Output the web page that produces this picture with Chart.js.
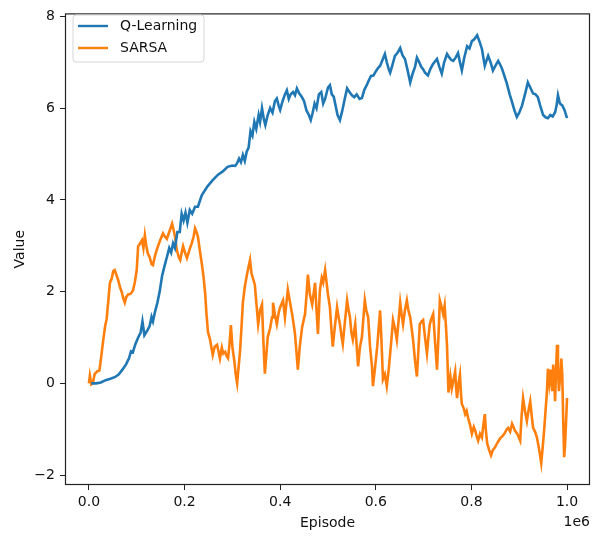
<!DOCTYPE html>
<html>
<head>
<meta charset="utf-8">
<script src="https://cdn.jsdelivr.net/npm/chart.js@4.4.1/dist/chart.umd.min.js"></script>
<style>
  body { margin: 0; background: #fff; }
  #wrap { width: 598px; height: 536px; }
</style>
</head>
<body>
<div id="wrap"><canvas id="valueChart" width="598" height="536"></canvas></div>
<script>
// episodes in thousands, values as logged
const qEpisodes = [5, 15, 25, 35, 45, 55, 62, 70, 78, 84, 88, 92, 97, 103, 108, 112, 116, 122, 127, 131, 134, 138, 143, 148, 153, 158, 163, 168, 172, 176, 180, 185, 190, 194, 198, 202, 206, 211, 216, 222, 228, 236, 247, 258, 270, 280, 290, 300, 306, 310, 314, 318, 322, 326, 330, 334, 338, 342, 346, 350, 355, 358, 362, 366, 369, 374, 379, 384, 389, 393, 397, 400, 405, 410, 414, 418, 422, 427, 431, 435, 440, 445, 450, 455, 460, 464, 468, 472, 476, 481, 486, 490, 494, 500, 504, 508, 512, 516, 520, 525, 530, 535, 540, 545, 550, 555, 560, 566, 571, 576, 581, 586, 590, 595, 600, 605, 609, 614, 619, 623, 627, 630, 635, 640, 645, 651, 656, 661, 666, 672, 677, 682, 686, 690, 695, 699, 703, 709, 714, 719, 724, 728, 733, 738, 743, 749, 754, 758, 762, 767, 772, 776, 780, 785, 791, 796, 801, 806, 812, 817, 822, 825, 828, 832, 835, 840, 845, 850, 856, 860, 864, 869, 874, 880, 885, 890, 895, 900, 906, 912, 918, 923, 929, 934, 939, 944, 950, 955, 960, 965, 970, 975, 978, 981, 985, 990, 995, 1000];
const qValues = [0.0, 0.0, 0.02, 0.07, 0.1, 0.14, 0.19, 0.3, 0.42, 0.55, 0.7, 0.68, 0.85, 1.0, 1.1, 1.35, 1.05, 1.15, 1.25, 1.45, 1.35, 1.55, 1.75, 2.0, 2.34, 2.55, 2.75, 2.95, 2.85, 3.05, 2.95, 3.3, 3.3, 3.7, 3.55, 3.72, 3.5, 3.78, 3.7, 3.85, 3.85, 4.1, 4.28, 4.42, 4.55, 4.62, 4.72, 4.75, 4.74, 4.8, 4.9, 4.82, 4.98, 4.85, 5.05, 5.14, 5.5, 5.4, 5.7, 5.55, 5.85, 5.7, 6.0, 5.75, 5.63, 5.85, 6.0, 5.9, 6.15, 6.21, 6.05, 5.96, 6.15, 6.3, 6.39, 6.2, 6.3, 6.35, 6.28, 6.43, 6.32, 6.25, 6.15, 5.95, 5.85, 5.74, 5.9, 6.1, 6.0, 6.3, 6.35, 6.1, 6.2, 6.45, 6.5, 6.3, 6.25, 6.05, 5.85, 5.74, 5.95, 6.2, 6.43, 6.35, 6.28, 6.24, 6.3, 6.2, 6.22, 6.4, 6.5, 6.62, 6.7, 6.71, 6.8, 6.88, 6.92, 7.05, 7.18, 7.0, 6.85, 6.77, 6.95, 7.14, 7.2, 7.31, 7.15, 7.07, 6.85, 6.56, 6.75, 6.9, 7.1, 7.02, 6.9, 6.85, 6.77, 6.71, 6.85, 6.95, 7.02, 7.07, 6.9, 6.75, 7.0, 7.18, 7.1, 7.05, 7.03, 7.1, 7.2, 7.0, 6.82, 7.1, 7.35, 7.3, 7.46, 7.5, 7.59, 7.45, 7.29, 7.1, 6.92, 7.05, 7.14, 7.0, 6.82, 6.92, 7.03, 6.95, 6.86, 6.7, 6.54, 6.3, 6.13, 5.95, 5.81, 5.9, 6.06, 6.3, 6.56, 6.45, 6.32, 6.3, 6.24, 6.05, 5.85, 5.8, 5.78, 5.85, 5.82, 5.91, 6.05, 6.28, 6.1, 6.06, 5.95, 5.78];

const sarsaEpisodes = [0, 2, 5, 8, 12, 17, 22, 26, 30, 34, 37, 41, 44, 48, 51, 54, 58, 61, 65, 69, 72, 75, 78, 82, 87, 92, 96, 100, 103, 107, 111, 114, 117, 120, 123, 127, 131, 134, 138, 143, 149, 155, 159, 163, 168, 174, 177, 180, 184, 188, 191, 194, 197, 201, 205, 210, 215, 219, 222, 225, 228, 232, 236, 240, 243, 246, 249, 253, 256, 259, 263, 268, 271, 274, 278, 281, 285, 288, 291, 294, 297, 300, 304, 307, 310, 313, 316, 319, 322, 326, 330, 334, 337,
    340, 347, 354, 358, 362, 365, 368, 374, 379, 383, 385, 389, 393, 397, 400, 406, 410, 416, 420, 425, 428, 431, 434, 437, 441, 446, 452, 455, 458, 462, 467, 473, 476, 479, 483, 487, 490, 494, 500, 504, 507, 510, 514, 519, 522, 525, 528, 531, 535, 540, 543, 546, 549, 552, 557, 563, 567, 571, 577, 580, 584, 588, 592, 594, 598, 603, 606, 609, 612, 615, 619, 623, 627, 630, 633, 636, 640, 644, 648, 651, 654, 657, 661, 665, 668, 672, 675, 678, 682, 686, 689, 692, 696, 699, 703, 707, 710, 713, 716, 720, 724, 728, 731, 734, 738, 741, 744, 747, 749, 752, 756, 759,
    763, 766, 768, 770, 773, 776, 778, 780, 784, 787, 790, 793, 797, 801, 805, 808, 811, 814, 818, 822, 825, 828, 830, 833, 837, 841, 845, 849, 854, 860, 865, 870, 874, 877, 881, 885, 888, 891, 896, 902, 905, 908, 912, 916, 920, 923, 926, 929, 933, 937, 941, 944, 946, 949, 952, 955, 958, 960, 963, 966, 969, 971, 973, 975, 977, 979, 981, 983, 986, 988, 990, 992, 994, 996, 998, 1000];
const sarsaValues = [0.0, 0.17, -0.02, 0.0, 0.2, 0.26, 0.28, 0.6, 0.95, 1.25, 1.4, 1.85, 2.19, 2.3, 2.45, 2.47, 2.35, 2.26, 2.1, 1.98, 1.85, 1.76, 1.88, 1.94, 1.95, 2.02, 2.2, 2.47, 2.99, 3.05, 3.12, 2.95, 3.23, 3.0, 2.84, 2.75, 2.6, 2.58, 2.77, 2.95, 3.12, 3.27, 3.2, 3.15, 3.3, 3.48, 3.35, 3.2, 2.9, 2.75, 2.69, 2.85, 2.99, 2.85, 2.73, 2.9, 3.05, 3.2, 3.38, 3.3, 3.2, 2.9, 2.62, 2.3, 1.98, 1.5, 1.12, 0.97, 0.8, 0.62, 0.8, 0.84, 0.7, 0.54, 0.78, 0.65, 0.69, 0.6, 0.55, 0.85, 1.27, 0.8, 0.5, 0.2, 0.0, 0.35, 0.69, 1.2, 1.76, 2.1, 2.34, 2.55, 2.69,
    2.4, 2.15, 1.29, 1.6, 1.72, 0.9, 0.21, 1.01, 1.2, 1.44, 1.76, 1.5, 1.29, 1.55, 1.66, 1.81, 1.44, 2.04, 1.8, 1.51, 1.3, 1.08, 0.7, 0.3, 0.8, 1.23, 1.51, 1.9, 2.37, 1.95, 1.72, 2.19, 1.6, 1.08, 2.02, 2.3, 2.2, 2.47, 1.94, 1.66, 1.2, 0.8, 1.2, 1.66, 1.45, 1.29, 1.05, 0.86, 1.3, 1.81, 1.6, 1.44, 1.1, 0.95, 1.29, 0.37, 0.8, 1.01, 1.81, 1.6, 1.44, 0.8, 0.37, -0.06, 0.3, 0.8, 1.2, 1.59, 0.9, 0.09, 0.2, -0.06, 0.3, 0.65, 1.0, 1.38, 1.2, 0.95, 1.4, 1.76, 1.5, 1.29, 1.6, 1.81, 1.6, 1.44, 1.2, 0.95, 0.5, 0.15, 0.7, 1.29, 1.35, 1.38, 1.0, 0.65, 1.0, 1.29, 1.4, 1.51, 0.9, 0.3, 1.0, 1.81, 1.65, 1.51, 1.7, 1.2, 0.8, -0.2, 0.15, -0.11,
    0.1, 0.26, -0.1, -0.32, 0.0, 0.19, -0.2, -0.45, -0.55, -0.67, -0.6, -0.75, -0.9, -1.1, -0.95, -1.03, -1.15, -1.25, -1.1, -1.18, -0.9, -0.67, -1.0, -1.31, -1.45, -1.57, -1.45, -1.4, -1.3, -1.2, -1.15, -1.08, -1.0, -0.97, -1.05, -0.88, -0.95, -1.03, -1.1, -1.25, -0.7, -0.32, -0.6, -0.82, -0.55, -0.39, -0.7, -0.97, -1.05, -1.18, -1.4, -1.6, -1.74, -1.4, -1.03, -0.6, -0.17, 0.32, 0.0, 0.3, -0.17, 0.41, 0.1, -0.39, 0.3, 0.84, 0.3, -0.17, 0.2, 0.54, 0.2, -0.82, -1.61, -1.3, -0.82, -0.32];

const xTicks = [0, 200000, 400000, 600000, 800000, 1000000];
const yTicks = [-2, 0, 2, 4, 6, 8];

const FONT = 'DejaVu Sans';
const toPoints = (xs, ys) => xs.map((k, i) => ({ x: k * 1000, y: ys[i] }));

// matplotlib-like box around the axes plus the inset legend and offset text
const axesDecor = {
    id: 'axesDecor',
    afterDraw(chart) {
        const { ctx, chartArea: a } = chart;
        ctx.save();
        ctx.strokeStyle = '#222';
        ctx.lineWidth = 1.2;
        ctx.strokeRect(a.left + 0.5, a.top + 0.5, a.right - a.left - 1, a.bottom - a.top - 1);

        // legend
        const lx = 73, ly = 15, lw = 131, lh = 47, r = 3;
        ctx.beginPath();
        ctx.moveTo(lx + r, ly);
        ctx.arcTo(lx + lw, ly, lx + lw, ly + lh, r);
        ctx.arcTo(lx + lw, ly + lh, lx, ly + lh, r);
        ctx.arcTo(lx, ly + lh, lx, ly, r);
        ctx.arcTo(lx, ly, lx + lw, ly, r);
        ctx.closePath();
        ctx.fillStyle = 'rgba(255,255,255,0.8)';
        ctx.fill();
        ctx.lineWidth = 1;
        ctx.strokeStyle = '#d6d6d6';
        ctx.stroke();

        ctx.font = '14px "' + FONT + '"';
        ctx.textBaseline = 'middle';
        ctx.textAlign = 'left';
        chart.data.datasets.forEach((ds, i) => {
            const y = 26 + i * 22;
            ctx.strokeStyle = ds.borderColor;
            ctx.lineWidth = 2.4;
            ctx.beginPath();
            ctx.moveTo(78, y);
            ctx.lineTo(108, y);
            ctx.stroke();
            ctx.fillStyle = '#111';
            ctx.fillText(ds.label, 120, y);
        });

        ctx.textAlign = 'right';
        ctx.fillText('1e6', a.right, 522);
        ctx.restore();
    }
};

new Chart(document.getElementById('valueChart'), {
    type: 'line',
    data: {
        datasets: [
            {
                label: 'Q-Learning',
                data: toPoints(qEpisodes, qValues),
                borderColor: '#1f77b4',
                borderWidth: 2.6,
                pointRadius: 0,
                tension: 0
            },
            {
                label: 'SARSA',
                data: toPoints(sarsaEpisodes, sarsaValues),
                borderColor: '#ff7f0e',
                borderWidth: 2.6,
                pointRadius: 0,
                tension: 0
            }
        ]
    },
    options: {
        responsive: false,
        animation: false,
        events: [],
        layout: { padding: { top: 7, right: 8, left: 0, bottom: 0 } },
        plugins: { legend: { display: false }, tooltip: { enabled: false } },
        scales: {
            x: {
                type: 'linear',
                min: -50000,
                max: 1048000,
                afterFit: (s) => { s.height = 51; },
                afterBuildTicks: (s) => { s.ticks = xTicks.map(v => ({ value: v })); },
                grid: { drawOnChartArea: false, tickLength: 5, color: '#222', tickColor: '#222' },
                border: { display: false },
                ticks: {
                    color: '#111',
                    font: { family: FONT, size: 14 },
                    padding: 4,
                    maxRotation: 0,
                    callback: (v) => (v / 1e6).toFixed(1)
                },
                title: {
                    display: true,
                    text: 'Episode',
                    color: '#111',
                    font: { family: FONT, size: 14 },
                    padding: { top: 0, bottom: 4 }
                }
            },
            y: {
                min: -2.215,
                max: 8.065,
                afterFit: (s) => { s.width = 65; },
                afterBuildTicks: (s) => { s.ticks = yTicks.map(v => ({ value: v })); },
                grid: { drawOnChartArea: false, tickLength: 5, color: '#222', tickColor: '#222' },
                border: { display: false },
                ticks: {
                    color: '#111',
                    font: { family: FONT, size: 14 },
                    padding: 5,
                    callback: (v) => v < 0 ? '\u2212' + Math.abs(v) : String(v)
                },
                title: {
                    display: true,
                    text: 'Value',
                    color: '#111',
                    font: { family: FONT, size: 14 },
                    padding: { top: 12, bottom: 0 }
                }
            }
        }
    },
    plugins: [axesDecor]
});
</script>
</body>
</html>
